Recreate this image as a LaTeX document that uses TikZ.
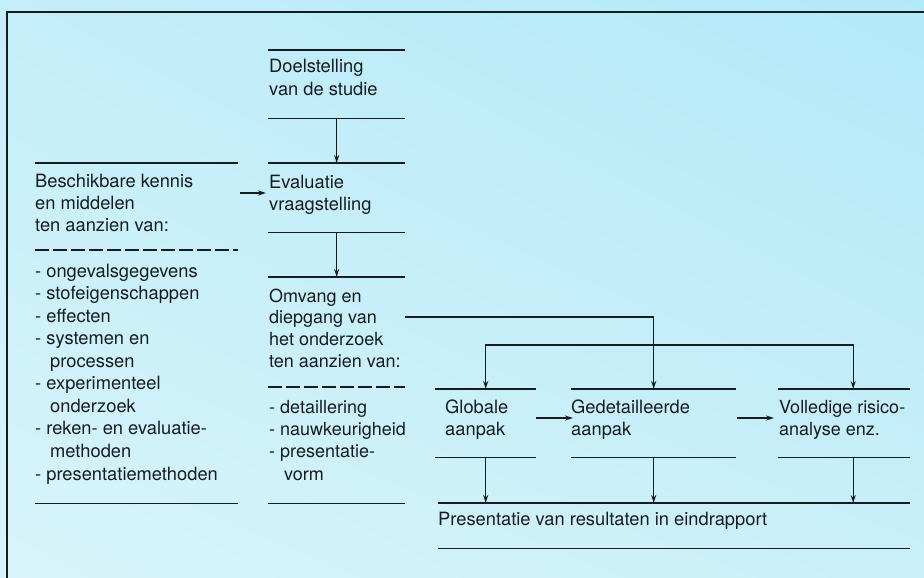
\documentclass[tikz,border=0pt]{standalone}
\usepackage{fontspec}
\setmainfont{TeX Gyre Heros}
\usetikzlibrary{arrows.meta,calc,shadings}
\definecolor{ink}{RGB}{22,28,32}
\definecolor{bgUL}{RGB}{196,238,249}
\definecolor{bgUR}{RGB}{178,233,248}
\definecolor{bgLL}{RGB}{216,244,250}
\definecolor{bgLR}{RGB}{202,239,249}
\newcommand{\mlines}[1]{\begin{tabular}[t]{@{}l@{}}#1\end{tabular}}
\begin{document}
\begin{tikzpicture}[x=1pt,y=-1pt,
  rulel/.style={draw=ink, line width=1.8pt},
  obox/.style={draw=none, inner sep=0pt, anchor=north west,
    append after command={(\tikzlastnode.north west) edge[rulel] (\tikzlastnode.north east)
      (\tikzlastnode.south west) edge[rulel] (\tikzlastnode.south east)}},
  arr/.style={draw=ink, line width=1.4pt, -{Stealth[length=8pt,width=5pt]}},
  dashrule/.style={rulel, dash pattern=on 14pt off 4pt},
  txt/.style={anchor=base west, inner sep=0pt, text=ink,
    font=\fontsize{18.3}{22.4}\selectfont},
]
\useasboundingbox (0,0) rectangle (924,578);
\shade[upper left=bgUL, upper right=bgUR, lower left=bgLL, lower right=bgLR] (0,0) rectangle (924,578);
\draw[ink, line width=2.2pt] (7,578) -- (7,12) -- (924,12);

% open boxes (top and bottom rules)
\node[obox, minimum width=203pt, minimum height=340pt] (kennis) at (35,163) {};
\node[obox, minimum width=137pt, minimum height=68pt] (doel) at (268,50) {};
\node[obox, minimum width=137pt, minimum height=69pt] (eval) at (268,163) {};
\node[obox, minimum width=137pt, minimum height=226pt] (omvang) at (268,277) {};
\node[obox, minimum width=101pt, minimum height=68pt] (glob) at (435,389) {};
\node[obox, minimum width=165pt, minimum height=68pt] (gedet) at (571,389) {};
\node[obox, minimum width=132pt, minimum height=68pt] (vol) at (778,389) {};
\node[obox, minimum width=472pt, minimum height=45pt] (pres) at (438,503) {};

% dashed separators
\draw[dashrule] ($(kennis.north west)+(0,87)$) -- ($(kennis.north east)+(0,87)$);
\draw[dashrule] ($(omvang.north west)+(0,110)$) -- ($(omvang.north east)+(0,110)$);

% texts
\node[txt, font=\fontsize{18.3}{22}\selectfont] (kt1) at (35,187) {\mlines{Beschikbare kennis\\en middelen\\ten aanzien van:}};
\node[txt, font=\fontsize{18.3}{22.56}\selectfont] (kt2) at (35,277) {\mlines{- ongevalsgegevens\\- stofeigenschappen\\- effecten\\- systemen en\\\hspace*{15pt}processen\\- experimenteel\\\hspace*{15pt}onderzoek\\- reken- en evaluatie-\\\hspace*{15pt}methoden\\- presentatiemethoden}};
\node[txt] (dt) at (269,73) {\mlines{Doelstelling\\van de studie}};
\node[txt] (et) at (269,188) {\mlines{Evaluatie\\vraagstelling}};
\node[txt, font=\fontsize{18}{21.7}\selectfont] (ot1) at (269,302) {\mlines{Omvang en\\diepgang van\\het onderzoek\\ten aanzien van:}};
\node[txt, font=\fontsize{18}{22.4}\selectfont] (ot2) at (269,413) {\mlines{- detaillering\\- nauwkeurigheid\\- presentatie-\\\hspace*{15pt}vorm}};
\node[txt, font=\fontsize{18.3}{22}\selectfont] (gt) at (445,413) {\mlines{Globale\\aanpak}};
\node[txt, font=\fontsize{18.3}{22}\selectfont] (gdt) at (571,413) {\mlines{Gedetailleerde\\aanpak}};
\node[txt, font=\fontsize{18}{22}\selectfont] (vt) at (779,413) {\mlines{Volledige risico-\\analyse enz.}};
\node[txt] (pt) at (438,525) {Presentatie van resultaten in eindrapport};

% connectors
\draw[arr] (doel.south) -- (eval.north);
\draw[arr] (eval.south) -- (omvang.north);
\draw[arr, shorten <=2pt, shorten >=2pt] ($(kennis.north east)+(0,30)$) -- ($(eval.north west)+(0,30)$);
\draw[arr] ($(omvang.north east)+(0,40)$) -| (gedet.north);
\coordinate (bar) at ($(gedet.north)+(0,-44)$);
\coordinate (vtop) at ($(vol.north)+(9,0)$);
\coordinate (vbot) at ($(vol.south)+(9,0)$);
\draw[arr] (bar) -| (glob.north);
\draw[arr] (bar) -| (vtop);
\draw[arr] ($(glob.north east)+(0,29)$) -- ($(gedet.north west)+(2,29)$);
\draw[arr] ($(gedet.north east)+(1,29)$) -- ($(vol.north west)+(-4,29)$);
\draw[arr] (glob.south) -- (glob.south |- pres.north);
\draw[arr] (gedet.south) -- (gedet.south |- pres.north);
\draw[arr] (vbot) -- (vbot |- pres.north);
\end{tikzpicture}
\end{document}
